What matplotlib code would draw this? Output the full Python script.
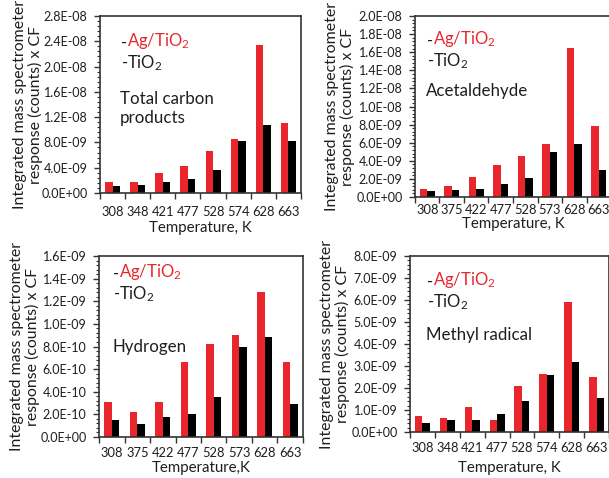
import matplotlib
matplotlib.use('Agg')
from matplotlib import pyplot as plt
from matplotlib.ticker import FixedLocator, AutoMinorLocator, FuncFormatter
import numpy as np

plt.rcParams['font.family'] = ['Lato', 'DejaVu Sans']
plt.rcParams['mathtext.fontset'] = 'custom'
plt.rcParams['mathtext.rm'] = 'Lato'
plt.rcParams['mathtext.it'] = 'Lato:italic'

RED = '#e8262c'
INK = '#1e1e1e'

# total carbon products
temps_carbon = ['308', '348', '421', '477', '528', '574', '628', '663']
carbon_ag = [1.7e-9, 1.8e-9, 3.2e-9, 4.3e-9, 6.7e-9, 8.6e-9, 2.34e-8, 1.1e-8]
carbon_ti = [1.1e-9, 1.3e-9, 1.7e-9, 2.2e-9, 3.6e-9, 8.3e-9, 1.07e-8, 8.3e-9]

# acetaldehyde
temps_acet = ['308', '375', '422', '477', '528', '573', '628', '663']
acet_ag = [8.9e-10, 1.18e-9, 2.2e-9, 3.54e-9, 4.5e-9, 5.83e-9, 1.65e-8, 7.9e-9]
acet_ti = [6.6e-10, 8.1e-10, 9.2e-10, 1.48e-9, 2.1e-9, 4.94e-9, 5.9e-9, 3.0e-9]

# hydrogen
temps_h2 = ['308', '375', '422', '477', '528', '573', '628', '663']
h2_ag = [3.05e-10, 2.2e-10, 3.05e-10, 6.6e-10, 8.24e-10, 9.0e-10, 1.28e-9, 6.6e-10]
h2_ti = [1.54e-10, 1.19e-10, 1.75e-10, 2.0e-10, 3.5e-10, 8.0e-10, 8.83e-10, 2.9e-10]

# methyl radical
temps_methyl = ['308', '348', '421', '477', '528', '574', '628', '663']
methyl_ag = [7.4e-10, 6.4e-10, 1.13e-9, 5.6e-10, 2.1e-9, 2.65e-9, 5.92e-9, 2.5e-9]
methyl_ti = [4.1e-10, 5.6e-10, 5.6e-10, 8.0e-10, 1.41e-9, 2.59e-9, 3.2e-9, 1.53e-9]

W, H = 609, 478
fig = plt.figure(figsize=(W / 100, H / 100), dpi=100)


def sci(v, pos):
    # excel style: 2.8E-08
    mant, exp = ('%.1E' % v).split('E')
    return '%sE%s%02d' % (mant, exp[0], abs(int(exp)))


def panel(box, temps, ag, ti, ymax, ystep, title, xlabel, txt_xy, title_dy,
          tick_gap, xlab_top, ylab_right):
    left, top, right, bottom = box
    wpx, hpx = right - left, bottom - top
    ax = fig.add_axes([left / W, 1 - bottom / H, wpx / W, hpx / H])
    x = np.arange(len(temps))
    bw = 0.3
    ax.bar(x - bw / 2, ag, width=bw, color=RED, zorder=2)
    ax.bar(x + bw / 2, ti, width=bw, color='black', zorder=2)
    ax.set_xlim(-0.5, len(temps) - 0.5)
    ax.set_ylim(0, ymax)
    ax.set_yticks(np.arange(0, ymax + ystep / 2, ystep))
    ax.yaxis.set_major_formatter(FuncFormatter(sci))
    ax.yaxis.set_minor_locator(AutoMinorLocator(5))
    ax.set_xticks(x)
    ax.set_xticklabels(temps)
    ax.xaxis.set_minor_locator(FixedLocator(np.arange(-0.5, len(temps), 1.0)))
    ax.tick_params(axis='x', which='major', length=0, pad=tick_gap, labelsize=9.3, colors=INK)
    ax.tick_params(axis='x', which='minor', length=4, width=1, direction='out', color='#333333')
    ax.tick_params(axis='y', which='major', length=4, width=1, labelsize=9,
                   labelcolor=INK, color='#333333', pad=5)
    ax.tick_params(axis='y', which='minor', length=2.5, width=0.8, color='#333333')
    for sp in ax.spines.values():
        sp.set_linewidth(1.2)
        sp.set_color('#333333')
    ax.set_xlabel(xlabel, fontsize=10.8, color=INK)
    ax.xaxis.set_label_coords(0.5, -(xlab_top - bottom) / hpx)
    ax.set_ylabel('Integrated mass spectrometer\nresponse (counts) x CF',
                  fontsize=11.4, color=INK, linespacing=1.1)
    ax.yaxis.set_label_coords((ylab_right - left) / wpx, 0.5)

    tx, ty = txt_xy
    d1 = fig.text(tx / W, 1 - ty / H, '-', fontsize=12, va='center', ha='left', color=INK)
    ax.annotate('Ag/TiO$_2$', xy=(1, 0), xycoords=d1, va='bottom', ha='left',
                fontsize=12, color=RED)
    fig.text(tx / W, 1 - (ty + 20) / H, '-TiO$_2$', fontsize=12, va='center',
             ha='left', color=INK)
    fig.text((tx - 1) / W, 1 - (ty + title_dy) / H, title, fontsize=12.2,
             va='top', ha='left', linespacing=1.2, color=INK)
    return ax


panel((100, 16, 301, 193), temps_carbon, carbon_ag, carbon_ti, 2.8e-8, 0.4e-8,
      'Total carbon\nproducts', 'Temperature, K', (121, 43), 48, 9.5, 221, 43)
panel((415, 16, 611, 197), temps_acet, acet_ag, acet_ti, 2.0e-8, 0.2e-8,
      'Acetaldehyde', 'Temperature, K', (427, 41), 42, 5, 217, 355)
panel((99, 256, 303, 437), temps_h2, h2_ag, h2_ti, 1.6e-9, 0.2e-9,
      'Hydrogen', 'Temperature,K', (113, 274), 65, 7.5, 461, 40)
panel((410, 256, 609, 432), temps_methyl, methyl_ag, methyl_ti, 8.0e-9, 1.0e-9,
      'Methyl radical', 'Temperature, K', (427, 282), 45, 7, 461, 350)

fig.savefig('out.png', dpi=100)
